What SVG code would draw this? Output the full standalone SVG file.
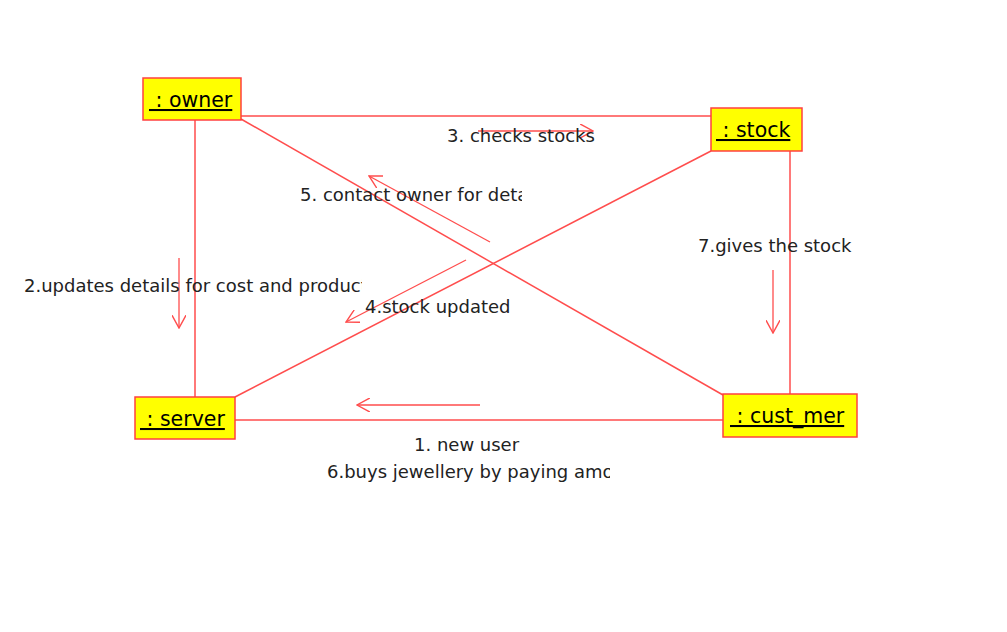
<svg xmlns="http://www.w3.org/2000/svg" width="1007" height="632" viewBox="0 0 1007 632">
<style>
.box{fill:#ffff00;stroke:#ff4040;stroke-width:1.5}
.lbl{font-family:"DejaVu Sans","Liberation Sans",sans-serif;font-size:20.5px;fill:#000;text-decoration:underline}
.ln{stroke:#ff4d4d;stroke-width:1.5;fill:none}
.ar{stroke:#ff4d4d;stroke-width:1.3;fill:none}
.msg{font-family:"DejaVu Sans","Liberation Sans",sans-serif;font-size:18px;fill:#222}
</style>
<defs>
<marker id="open" viewBox="0 0 12 12" refX="11" refY="6" markerWidth="14" markerHeight="14" markerUnits="userSpaceOnUse" orient="auto">
<path d="M0,0 L11,6 L0,12" fill="none" stroke="#ff4d4d" stroke-width="1.2"/>
</marker>
<clipPath id="c5"><rect x="290" y="180" width="232" height="30"/></clipPath>
<clipPath id="c2"><rect x="15" y="270" width="347" height="30"/></clipPath>
<clipPath id="c6"><rect x="315" y="458" width="295" height="30"/></clipPath>
</defs>
<rect width="1007" height="632" fill="#fff"/>
<g id="connectors">
<line class="ln" x1="241" y1="116" x2="711" y2="116"/>
<line class="ln" x1="195" y1="120" x2="195" y2="397"/>
<line class="ln" x1="241" y1="119" x2="723" y2="395"/>
<line class="ln" x1="711" y1="151" x2="235" y2="397"/>
<line class="ln" x1="790" y1="151" x2="790" y2="394"/>
<line class="ln" x1="235" y1="420" x2="723" y2="420"/>
<line class="ar" x1="478" y1="131" x2="593" y2="131" marker-end="url(#open)"/>
<line class="ar" x1="490" y1="242" x2="369" y2="176" marker-end="url(#open)"/>
<line class="ar" x1="179" y1="258" x2="179" y2="328" marker-end="url(#open)"/>
<line class="ar" x1="466" y1="260" x2="346" y2="322" marker-end="url(#open)"/>
<line class="ar" x1="773" y1="270" x2="773" y2="333" marker-end="url(#open)"/>
<line class="ar" x1="480" y1="405" x2="357" y2="405" marker-end="url(#open)"/>
<text class="msg" x="447" y="142">3. checks stocks</text>
<text class="msg" x="300" y="201" clip-path="url(#c5)">5. contact owner for details</text>
<text class="msg" x="24" y="292" clip-path="url(#c2)">2.updates details for cost and product</text>
<text class="msg" x="365" y="313">4.stock updated</text>
<text class="msg" x="698" y="252">7.gives the stock</text>
<text class="msg" x="414" y="451">1. new user</text>
<text class="msg" x="327" y="478" clip-path="url(#c6)">6.buys jewellery by paying amount</text>
</g>
<g id="owner">
<rect class="box" x="143" y="78" width="98" height="42"/>
<text class="lbl" x="149" y="107" xml:space="preserve"> : owner</text>
</g>
<g id="stock">
<rect class="box" x="711" y="108" width="91" height="43"/>
<text class="lbl" x="716" y="137" xml:space="preserve"> : stock</text>
</g>
<g id="server">
<rect class="box" x="135" y="397" width="100" height="42"/>
<text class="lbl" x="140" y="426" xml:space="preserve"> : server</text>
</g>
<g id="cust_mer">
<rect class="box" x="723" y="394" width="134" height="43"/>
<text class="lbl" x="730" y="423" xml:space="preserve"> : cust_mer</text>
</g>
</svg>
